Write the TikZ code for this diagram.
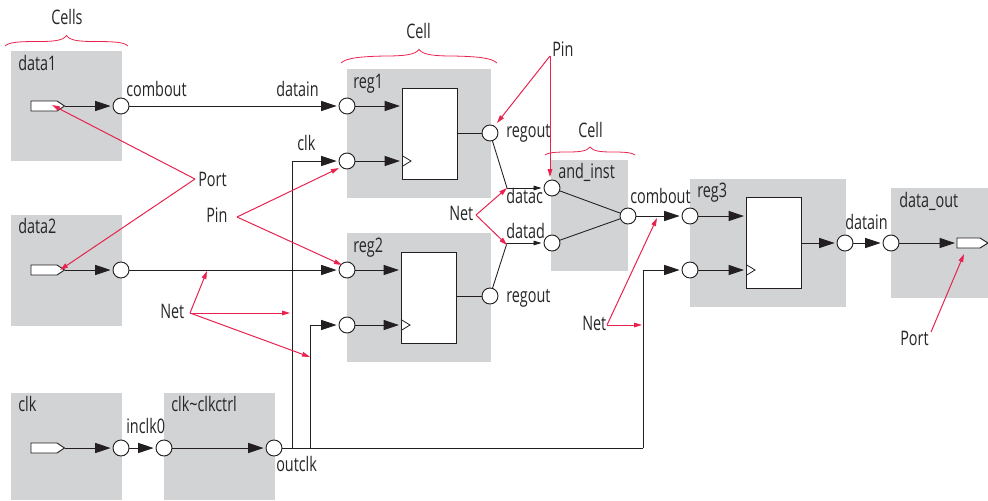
\documentclass[tikz,border=0pt]{standalone}
\usepackage{fontspec}
\setmainfont[FakeStretch=0.72]{Open Sans}
\usetikzlibrary{arrows.meta}
\definecolor{cellgray}{HTML}{D1D3D4}
\definecolor{wirecol}{HTML}{231F20}
\definecolor{notecol}{HTML}{E8234F}
\def\u{0.75pt}
\tikzset{
  cellbox/.style={fill=cellgray,draw=none,inner sep=0pt,anchor=north west},
  ffbox/.style={fill=white,draw=wirecol,line width=0.7pt,inner sep=0pt,anchor=north west,minimum width=55*\u,minimum height=91*\u},
  pin/.style={circle,fill=white,draw=wirecol,line width=0.7pt,inner sep=0pt,minimum size=16*\u},
  lbl/.style={anchor=base west,inner sep=0pt,text=black!85,font=\fontsize{15}{17}\selectfont},
  portshape/.style={fill=white,draw=wirecol,line width=0.7pt,line join=miter},
  wire/.style={draw=wirecol,line width=0.65pt},
  warrow/.style={wire,-{Triangle[length=11.5pt,width=7.5pt]},shorten >=1.5pt},
  warrowsm/.style={wire,-{Triangle[length=6pt,width=3.5pt]},shorten >=1.5pt},
  clockmark/.style={draw=wirecol,line width=0.6pt,fill=none},
  note/.style={draw=notecol,line width=0.75pt,-{Triangle[length=6pt,width=3.5pt]}},
  bracepath/.style={draw=notecol,line width=0.6pt},
}
\begin{document}
\begin{tikzpicture}[x=0.75pt,y=-0.75pt]
\useasboundingbox (0,0) rectangle (988,500);
% cells
\node[cellbox,minimum width=111*\u,minimum height=110*\u] (data1) at (11,51) {};
\node[cellbox,minimum width=111*\u,minimum height=111*\u] (data2) at (11,215) {};
\node[cellbox,minimum width=111*\u,minimum height=107*\u] (clkcell) at (11,393) {};
\node[cellbox,minimum width=111*\u,minimum height=107*\u] (clkctrl) at (164,393) {};
\node[cellbox,minimum width=144*\u,minimum height=129*\u] (reg1) at (347,69) {};
\node[cellbox,minimum width=144*\u,minimum height=129*\u] (reg2) at (347,233) {};
\node[cellbox,minimum width=77*\u,minimum height=111*\u] (andinst) at (551,160) {};
\node[cellbox,minimum width=156*\u,minimum height=128*\u] (reg3) at (690,179) {};
\node[cellbox,minimum width=97*\u,minimum height=110*\u] (dataout) at (891,188) {};
% flip-flops
\node[ffbox] (ff1) at (402,88) {};
\node[ffbox] (ff2) at (401,252) {};
\node[ffbox] (ff3) at (746,197) {};
\draw[clockmark] (402,155.5) -- (411,161) -- (402,166.5);
\draw[clockmark] (401,319.5) -- (410,325) -- (401,330.5);
\draw[clockmark] (746,264.5) -- (755,270) -- (746,275.5);
% ports
\draw[portshape] (31,101) -- (57,101) -- (64.5,106) -- (57,111) -- (31,111) -- cycle;
\draw[portshape] (31,265) -- (57,265) -- (64.5,270) -- (57,275) -- (31,275) -- cycle;
\draw[portshape] (31,443) -- (57,443) -- (64.5,448) -- (57,453) -- (31,453) -- cycle;
\draw[portshape] (957,238) -- (980,238) -- (988,243) -- (980,248) -- (957,248) -- cycle;
\coordinate (p1) at (64.5,106);
\coordinate (p2) at (64.5,270);
\coordinate (p3) at (64.5,448);
\coordinate (p4) at (957,243);
% pins
\node[pin] (o1) at (121,106) {};
\node[pin] (o2) at (121,270) {};
\node[pin] (o3) at (121,448) {};
\node[pin] (ci) at (164,448) {};
\node[pin] (co) at (274,448) {};
\node[pin] (r1d) at (347,106) {};
\node[pin] (r1c) at (347,161) {};
\node[pin] (r1q) at (490,133) {};
\node[pin] (r2d) at (347,270) {};
\node[pin] (r2c) at (347,325) {};
\node[pin] (r2q) at (490,296) {};
\node[pin] (ac) at (552,188) {};
\node[pin] (ad) at (552,243) {};
\node[pin] (ao) at (628,216) {};
\node[pin] (r3d) at (690,216) {};
\node[pin] (r3c) at (690,270) {};
\node[pin] (r3q) at (845,243) {};
\node[pin] (di) at (891,243) {};
% wires
\draw[warrow] (p1) -- (o1);
\draw[warrow] (p2) -- (o2);
\draw[warrow] (p3) -- (o3);
\draw[warrow] (o3) -- (ci);
\draw[warrow] (ci) -- (co);
\draw[warrow] (o1) -- (r1d);
\draw[warrow] (o2) -- (r2d);
\coordinate (b1) at (292,448);
\coordinate (b2) at (310,448);
\coordinate (b3) at (643,448);
\draw[wire] (co) -- (b3);
\draw[warrow] (b1) |- (r1c);
\draw[warrow] (b2) |- (r2c);
\draw[warrow] (b3) |- (r3c);
\draw[warrow] (r1d) -- (ff1.west |- r1d);
\draw[warrow] (r1c) -- (ff1.west |- r1c);
\draw[warrow] (r2d) -- (ff2.west |- r2d);
\draw[warrow] (r2c) -- (ff2.west |- r2c);
\draw[warrow] (r3d) -- (ff3.west |- r3d);
\draw[warrow] (r3c) -- (ff3.west |- r3c);
\draw[wire] (ff1.east |- r1q) -- (r1q);
\draw[wire] (ff2.east |- r2q) -- (r2q);
\draw[warrow] (ff3.east |- r3q) -- (r3q);
\draw[warrow] (r3q) -- (di);
\draw[warrow] (di) -- (p4);
\coordinate (j1) at (507,188);
\coordinate (j2) at (507,243);
\draw[wire] (r1q) -- (j1);
\draw[wire] (r2q) -- (j2);
\draw[warrowsm] (j1) -- (ac);
\draw[warrowsm] (j2) -- (ad);
\draw[wire] (ac) -- (ao);
\draw[wire] (ad) -- (ao);
\draw[warrow] (ao) -- (r3d);
% labels
\node[lbl] (tcells) at (51,24) {Cells};
\node[lbl] (tcell1) at (406,38) {Cell};
\node[lbl] (tcell2) at (578,137) {Cell};
\node[lbl] (tdata1) at (18,70) {data1};
\node[lbl] (tdata2) at (18,233) {data2};
\node[lbl] (tclk) at (18,411) {clk};
\node[lbl] (tclkctrl) at (171,411) {clk\textasciitilde clkctrl};
\node[lbl] (treg1) at (353,88) {reg1};
\node[lbl] (treg2) at (353,252) {reg2};
\node[lbl] (tand) at (558,178) {and\_inst};
\node[lbl] (treg3) at (697,197) {reg3};
\node[lbl] (tdout) at (899,207) {data\_out};
\node[lbl] (tcomb1) at (126,96) {combout};
\node[lbl] (tdatain1) at (276,96) {datain};
\node[lbl] (tclkin) at (297,150) {clk};
\node[lbl] (tq1) at (506,137) {regout};
\node[lbl] (tq2) at (506,302) {regout};
\node[lbl] (tdc) at (506,203) {datac};
\node[lbl] (tdd) at (506,238) {datad};
\node[lbl] (tcomb2) at (630,203) {combout};
\node[lbl] (tdatain2) at (845,229) {datain};
\node[lbl] (tinclk) at (126,433) {inclk0};
\node[lbl] (toutclk) at (276,471) {outclk};
\node[lbl] (tport1) at (198,186) {Port};
\node[lbl] (tpin1) at (206,222) {Pin};
\node[lbl] (tnet1) at (160,318) {Net};
\node[lbl] (tpin2) at (552,56) {Pin};
\node[lbl] (tnet2) at (449,220) {Net};
\node[lbl] (tnet3) at (582,330) {Net};
\node[lbl] (tport2) at (900,345) {Port};
% braces
\draw[bracepath] (5,46) .. controls (9,42) and (20,41.5) .. (38,41.5) .. controls (52,41.5) and (63,41) .. (66.5,35.5) .. controls (70,41) and (81,41.5) .. (95,41.5) .. controls (113,41.5) and (124,42) .. (128,46);
\draw[bracepath] (341,63) .. controls (346,58) and (360,56.5) .. (385,56) .. controls (403,56) and (415,55) .. (419,49.5) .. controls (423,55) and (435,56) .. (453,56) .. controls (478,56.5) and (492,58) .. (497,63);
\draw[bracepath] (545,155) .. controls (548,152.5) and (556,152) .. (567,152) .. controls (578,152) and (587,151.5) .. (590,147) .. controls (593,151.5) and (602,152) .. (613,152) .. controls (624,152) and (632,152.5) .. (635,155);
% annotation arrows
\coordinate (nport1) at (195,179);
\coordinate (nt1) at (52,105);
\coordinate (nt2) at (60,270);
\draw[note] (nport1) -- (nt1);
\draw[note] (nport1) -- (nt2);
\coordinate (npin1) at (237,217);
\coordinate (nt3) at (339,168);
\coordinate (nt4) at (342,265);
\draw[note] (npin1) -- (nt3);
\draw[note] (npin1) -- (nt4);
\coordinate (nnet1) at (190,313);
\coordinate (nt5) at (207,271);
\coordinate (nt6) at (290,313);
\coordinate (nt7) at (310,357);
\draw[note] (nnet1) -- (nt5);
\draw[note] (nnet1) -- (nt6);
\draw[note] (nnet1) -- (nt7);
\coordinate (npin2) at (550,56);
\coordinate (nt8) at (497,123);
\coordinate (nt9) at (550,177);
\draw[note] (npin2) -- (nt8);
\draw[note] (npin2) -- (nt9);
\coordinate (nnet2) at (476,215);
\coordinate (nt10) at (507,188);
\coordinate (nt11) at (507,245);
\draw[note] (nnet2) -- (nt10);
\draw[note] (nnet2) -- (nt11);
\coordinate (nnet3) at (607,325);
\coordinate (nt12) at (657,218);
\coordinate (nt13) at (642,325);
\draw[note] (nnet3) -- (nt12);
\draw[note] (nnet3) -- (nt13);
\coordinate (nport2) at (931,332);
\coordinate (nt14) at (964,254);
\draw[note] (nport2) -- (nt14);
\end{tikzpicture}
\end{document}
